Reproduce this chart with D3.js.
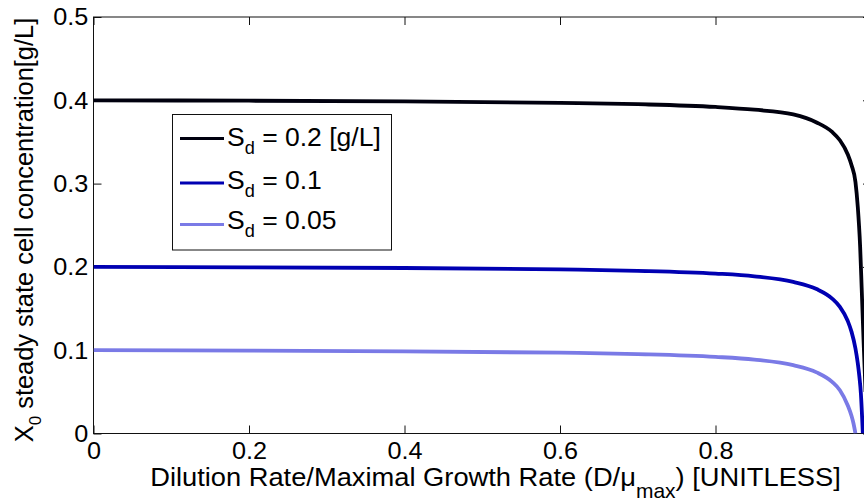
<!DOCTYPE html>
<html><head><meta charset="utf-8">
<script src="https://cdn.jsdelivr.net/npm/d3@7"></script>
<style>
body{margin:0;background:#fff;}
svg{display:block;font-family:"Liberation Sans",Arial,Helvetica,sans-serif;}
</style>
</head><body>
<svg id="c" width="864" height="501"></svg>
<script>
// ---- data ----
const xTickValues = [0, 0.2, 0.4, 0.6, 0.8, 1];
const xLabelValues = [0, 0.2, 0.4, 0.6, 0.8];
const xTickLabels = ["0", "0.2", "0.4", "0.6", "0.8"];
const yTickValues = [0, 0.1, 0.2, 0.3, 0.4, 0.5];
const yTickLabels = ["0", "0.1", "0.2", "0.3", "0.4", "0.5"];

const legendLabels = ["0.2 [g/L]", "0.1", "0.05"];
const seriesColors = ["#00000e", "#0000b2", "#7a7ae6"];

const xSd02 = [0, 0.2, 0.4, 0.6, 0.7, 0.8, 0.85, 0.9, 0.93, 0.95, 0.96, 0.97, 0.975, 0.98, 0.983, 0.986, 0.988, 0.9905, 0.993];
const ySd02 = [0.400, 0.3995, 0.3987, 0.397, 0.3953, 0.392, 0.3887, 0.383, 0.3734, 0.362, 0.352, 0.3353, 0.322, 0.302, 0.272, 0.225, 0.175, 0.11, 0.05];

const xSd01 = [0, 0.2, 0.4, 0.6, 0.7, 0.8, 0.85, 0.9, 0.93, 0.95, 0.96, 0.97, 0.975, 0.98, 0.983, 0.985, 0.987, 0.9895];
const ySd01 = [0.200, 0.1995, 0.1987, 0.197, 0.1953, 0.192, 0.1887, 0.182, 0.1734, 0.162, 0.152, 0.1353, 0.122, 0.102, 0.0843, 0.0687, 0.048, 0];

const xSd005 = [0, 0.2, 0.4, 0.6, 0.7, 0.8, 0.85, 0.9, 0.93, 0.95, 0.96, 0.97, 0.975, 0.9775, 0.98];
const ySd005 = [0.100, 0.0995, 0.0987, 0.097, 0.0953, 0.092, 0.0887, 0.082, 0.0734, 0.062, 0.052, 0.034, 0.021, 0.012, 0];

const seriesX = [xSd02, xSd01, xSd005];
const seriesY = [ySd02, ySd01, ySd005];

// ---- layout ----
const L = 93.5, R = 871, T = 17, B = 433.5;
const svg = d3.select("#c");
const x = d3.scaleLinear().domain([0, 1]).range([L, R]);
const y = d3.scaleLinear().domain([0, 0.5]).range([B, T]);

svg.append("rect").attr("width", 864).attr("height", 501).attr("fill", "#fff");
svg.append("defs").append("clipPath").attr("id", "plotclip")
  .append("rect").attr("x", L).attr("y", T).attr("width", R - L).attr("height", B - T);

const FONT = '"Liberation Sans",Arial,sans-serif';

// bottom axis: ticks, then labels
const gx = svg.append("g").attr("transform", `translate(0,${B})`)
  .call(d3.axisBottom(x).tickValues(xTickValues).tickFormat("").tickSize(-8));
const gxl = svg.append("g").attr("transform", `translate(0,${B})`)
  .call(d3.axisBottom(x).tickValues(xLabelValues).tickFormat((d, i) => xTickLabels[i]).tickSize(0).tickPadding(8));
gxl.selectAll("line").remove();
const gxt = svg.append("g").attr("transform", `translate(0,${T})`)
  .call(d3.axisTop(x).tickValues(xTickValues).tickFormat("").tickSize(-8));
const gy = svg.append("g").attr("transform", `translate(${L},0)`)
  .call(d3.axisLeft(y).tickValues(yTickValues).tickFormat((d, i) => yTickLabels[i]).tickSize(-8).tickPadding(5));
const gyr = svg.append("g").attr("transform", `translate(${R},0)`)
  .call(d3.axisRight(y).tickValues(yTickValues).tickFormat("").tickSize(-8));

[gx, gxl, gxt, gy, gyr].forEach(g => {
  g.select(".domain").remove();
  g.selectAll("line").attr("stroke", "#111").attr("stroke-width", 1);
  g.selectAll("text").attr("fill", "#000").style("font-size", "24.5px")
    .style("font-family", FONT).attr("transform", "scale(1.03,1)");
});

svg.append("rect").attr("x", L).attr("y", T).attr("width", R - L).attr("height", B - T)
  .attr("fill", "none").attr("stroke", "#111").attr("stroke-width", 1);

// curves
const line = d3.line().x(d => x(d[0])).y(d => y(d[1])).curve(d3.curveMonotoneX);
const plot = svg.append("g").attr("clip-path", "url(#plotclip)");
seriesX.forEach((xs, i) => {
  const pts = xs.map((v, j) => [v, seriesY[i][j]]);
  plot.append("path").datum(pts).attr("d", line)
    .attr("fill", "none").attr("stroke", seriesColors[i]).attr("stroke-width", 3.8)
    .attr("stroke-linejoin", "round");
});

// legend
const lg = svg.append("g");
lg.append("rect").attr("x", 172.5).attr("y", 114.5).attr("width", 219).attr("height", 135.5)
  .attr("fill", "#fff").attr("stroke", "#111").attr("stroke-width", 1);
const legendLineY = [138.5, 183, 224.5];
const legendBase = [145.5, 188.5, 229];
legendLabels.forEach((lab, i) => {
  lg.append("line").attr("x1", 180).attr("x2", 224).attr("y1", legendLineY[i]).attr("y2", legendLineY[i])
    .attr("stroke", seriesColors[i]).attr("stroke-width", 3);
  const t = lg.append("text").attr("transform", `translate(227,${legendBase[i]}) scale(1.04,1)`)
    .style("font-size", "25.5px").attr("fill", "#000");
  t.append("tspan").text("S");
  t.append("tspan").attr("dy", 8).style("font-size", "17.5px").text("d");
  t.append("tspan").attr("dy", -8).text(" = " + lab);
});

// x label
const xl = svg.append("text").attr("transform", "translate(495.5,486) scale(1.05,1)").attr("text-anchor", "middle")
  .style("font-size", "26px").attr("fill", "#000");
xl.append("tspan").text("Dilution Rate/Maximal Growth Rate (D/\u03bc");
xl.append("tspan").attr("dy", 12).style("font-size", "20px").text("max");
xl.append("tspan").attr("dy", -12).text(") [UNITLESS]");

// y label
const yl = svg.append("text").attr("transform", "translate(33,230) rotate(-90)").attr("text-anchor", "middle")
  .style("font-size", "25.4px").attr("fill", "#000");
yl.append("tspan").text("X");
yl.append("tspan").attr("dy", 8).style("font-size", "17px").text("0");
yl.append("tspan").attr("dy", -8).text(" steady state cell concentration[g/L]");
</script>
</body></html>
